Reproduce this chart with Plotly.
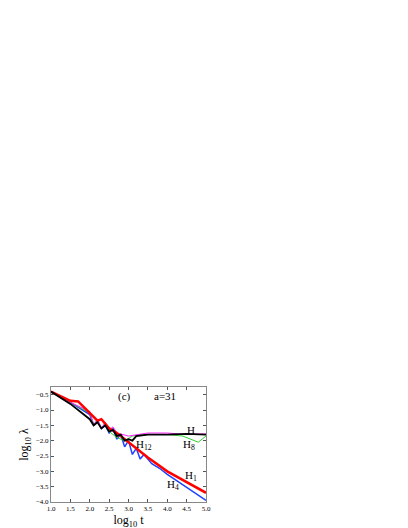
import plotly.graph_objects as go

# log10 t grid points
t_h = [1.0, 1.5, 2.0, 2.1, 2.2, 2.3, 2.4, 2.5, 2.6, 2.7, 2.8, 2.9, 3.0, 3.1, 3.2, 3.5, 4.0, 4.5, 5.0]
h = [-0.4, -0.8, -1.3, -1.5, -1.4, -1.6, -1.5, -1.7, -1.65, -1.85, -1.8, -2.0, -1.95, -2.0, -1.85, -1.8, -1.8, -1.78, -1.8]

t_h8 = [1.0, 1.5, 2.0, 2.1, 2.2, 2.3, 2.4, 2.5, 2.6, 2.7, 3.0, 3.3, 3.5, 4.0, 4.5, 5.0]
h8 = [-0.4, -0.75, -1.05, -1.5, -1.3, -1.6, -1.4, -1.65, -1.55, -1.75, -1.85, -1.8, -1.75, -1.75, -1.8, -1.78]

t_h12 = [1.0, 1.5, 2.0, 2.1, 2.2, 2.3, 2.4, 2.5, 2.7, 2.9, 3.1, 3.3, 3.6, 4.0, 4.4, 4.8, 5.0]
h12 = [-0.4, -0.75, -1.1, -1.45, -1.35, -1.6, -1.5, -1.7, -1.9, -2.0, -1.85, -1.8, -1.8, -1.8, -1.85, -2.05, -1.85]

t_h1 = [1.0, 1.5, 1.7, 2.0, 2.1, 2.2, 2.3, 2.4, 2.5, 2.7, 3.0, 3.5, 4.0, 4.5, 5.0]
h1 = [-0.4, -0.7, -0.72, -1.1, -1.2, -1.35, -1.3, -1.45, -1.6, -1.75, -2.05, -2.55, -3.0, -3.35, -3.7]

t_h4 = [1.0, 1.5, 2.0, 2.1, 2.2, 2.3, 2.4, 2.5, 2.6, 2.7, 2.8, 2.9, 3.0, 3.1, 3.2, 3.3, 3.4, 3.6, 3.8, 4.0, 4.3, 4.6, 5.0]
h4 = [-0.4, -0.75, -1.15, -1.5, -1.35, -1.6, -1.5, -1.75, -1.6, -1.95, -1.8, -2.2, -2.0, -2.45, -2.25, -2.6, -2.45, -2.75, -2.9, -3.1, -3.35, -3.6, -3.95]

series = [
    (t_h4, h4, "#2040ff", 1.5),
    (t_h12, h12, "#30d030", 1),
    (t_h8, h8, "#ff20ff", 1),
    (t_h1, h1, "#ff0000", 2.5),
    (t_h, h, "#000000", 1.8),
]

SERIF = "Liberation Serif, Times New Roman, DejaVu Serif, serif"

fig = go.Figure()
for x, y, c, w in series:
    fig.add_trace(go.Scatter(x=x, y=y, mode="lines", line=dict(color=c, width=w)))

labels = [
    (2.9, -0.55, "(c)"), (3.95, -0.55, "a=31"),
    (4.6, -1.65, "H"), (4.55, -2.15, "H<sub>8</sub>"), (3.4, -2.15, "H<sub>12</sub>"),
    (4.6, -3.15, "H<sub>1</sub>"), (4.15, -3.45, "H<sub>4</sub>"),
]
for x, y, s in labels:
    fig.add_annotation(x=x, y=y, text=s, showarrow=False,
                       font=dict(size=11, family=SERIF, color="black"))

ax = dict(showline=True, mirror="ticks", linecolor="#888", linewidth=1, ticks="inside",
          ticklen=3, tickcolor="#555", showgrid=False, zeroline=False,
          tickfont=dict(size=7, family=SERIF, color="black"))
fig.update_layout(
    width=408, height=528, showlegend=False,
    plot_bgcolor="white", paper_bgcolor="white",
    font=dict(family=SERIF, color="black"),
    margin=dict(l=43, r=210, t=379, b=34),
    xaxis=dict(ax, range=[1, 5], dtick=0.5, tickformat=".1f",
               title=dict(text="log<sub>10</sub> t", font=dict(size=12, family=SERIF), standoff=2)),
    yaxis=dict(ax, range=[-4, -0.25], dtick=0.5, tickformat=".1f",
               title=dict(text="log<sub>10</sub> λ", font=dict(size=12, family=SERIF), standoff=4)),
)
fig.write_html("out.html")
